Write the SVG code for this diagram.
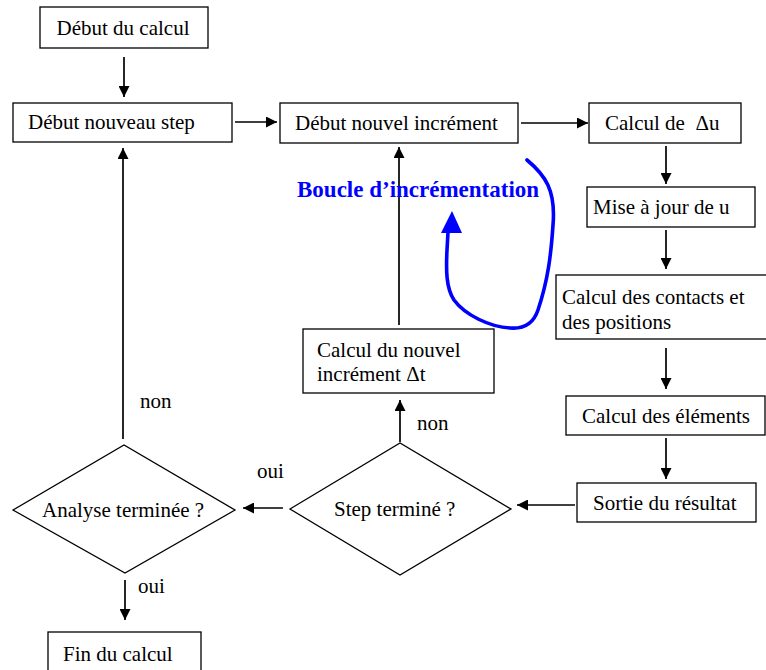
<svg xmlns="http://www.w3.org/2000/svg" width="766" height="670" viewBox="0 0 766 670">
  <style>
    .box { fill: #fff; stroke: #000; stroke-width: 1.3; }
    .lbl { font-family: "Liberation Serif", "Times New Roman", serif; font-size: 21px; fill: #000; }
    .edge { stroke: #000; stroke-width: 1.7; fill: none; }
    .loop { stroke: #0000ff; stroke-width: 3.6; fill: none; stroke-linecap: round; }
    .loopText { font-family: "Liberation Serif", "Times New Roman", serif; font-size: 23px; font-weight: bold; fill: #0000ff; }
  </style>
  <defs>
    <marker id="arrow" viewBox="0 0 10 10" refX="10" refY="5" markerWidth="11" markerHeight="11" markerUnits="userSpaceOnUse" orient="auto">
      <path d="M0,0 L10,5 L0,10 z" fill="#000"/>
    </marker>
  </defs>
  <rect width="766" height="670" fill="#fff"/>

  <!-- connectors -->
  <g id="connectors">
    <line class="edge" x1="124" y1="57" x2="124" y2="97" marker-end="url(#arrow)"/>
    <line class="edge" x1="235" y1="122" x2="277" y2="122" marker-end="url(#arrow)"/>
    <line class="edge" x1="521" y1="123" x2="588" y2="123" marker-end="url(#arrow)"/>
    <line class="edge" x1="666" y1="146" x2="666" y2="184" marker-end="url(#arrow)"/>
    <line class="edge" x1="666" y1="230" x2="666" y2="269" marker-end="url(#arrow)"/>
    <line class="edge" x1="666" y1="348" x2="666" y2="389" marker-end="url(#arrow)"/>
    <line class="edge" x1="666" y1="438" x2="666" y2="479" marker-end="url(#arrow)"/>
    <line class="edge" x1="575" y1="505" x2="517" y2="505" marker-end="url(#arrow)"/>
    <line class="edge" x1="283" y1="508" x2="243" y2="508" marker-end="url(#arrow)"/>
    <line class="edge" x1="400" y1="442" x2="400" y2="400" marker-end="url(#arrow)"/>
    <line class="edge" x1="399" y1="325" x2="399" y2="147" marker-end="url(#arrow)"/>
    <line class="edge" x1="123" y1="439" x2="123" y2="148" marker-end="url(#arrow)"/>
    <line class="edge" x1="125" y1="580" x2="125" y2="620" marker-end="url(#arrow)"/>
    <text class="lbl" x="257" y="478">oui</text>
    <text class="lbl" x="417" y="430">non</text>
    <text class="lbl" x="140" y="408">non</text>
    <text class="lbl" x="138" y="593">oui</text>
  </g>

  <!-- increment loop annotation -->
  <g id="loop">
    <path class="loop" d="M527,160 C545,175 556,190 553,225 C551,255 548,280 538,310 C533,325 522,329 510,328 C490,327 465,315 454,300 C446,288 446,270 447,250 L448,232"/>
    <path d="M441,233 L452,211 L462,233 z" fill="#0000ff"/>
    <text class="loopText" x="297" y="197">Boucle d’incrémentation</text>
  </g>

  <g id="debut-calcul">
    <rect class="box" x="40" y="7" width="168" height="41"/>
    <text class="lbl" x="123" y="35" text-anchor="middle">Début du calcul</text>
  </g>
  <g id="debut-step">
    <rect class="box" x="13" y="103" width="219" height="39"/>
    <text class="lbl" x="28" y="129">Début nouveau step</text>
  </g>
  <g id="debut-increment">
    <rect class="box" x="280" y="103" width="238" height="40"/>
    <text class="lbl" x="295" y="130">Début nouvel incrément</text>
  </g>
  <g id="calcul-du">
    <rect class="box" x="589" y="103" width="152" height="40"/>
    <text class="lbl" x="605" y="130" xml:space="preserve">Calcul de  Δu</text>
  </g>
  <g id="maj-u">
    <rect class="box" x="587" y="187" width="168" height="40"/>
    <text class="lbl" x="593" y="214">Mise à jour de u</text>
  </g>
  <g id="contacts">
    <rect class="box" x="556" y="275" width="212" height="64"/>
    <text class="lbl" x="562" y="304">Calcul des contacts et</text>
    <text class="lbl" x="562" y="329">des positions</text>
  </g>
  <g id="elements">
    <rect class="box" x="566" y="396" width="199" height="39"/>
    <text class="lbl" x="582" y="423">Calcul des éléments</text>
  </g>
  <g id="sortie">
    <rect class="box" x="577" y="483" width="179" height="39"/>
    <text class="lbl" x="593" y="510">Sortie du résultat</text>
  </g>
  <g id="step-termine">
    <polygon class="box" points="290,509 400,443 511,509 400,575"/>
    <text class="lbl" x="334" y="516">Step terminé ?</text>
  </g>
  <g id="nouvel-dt">
    <rect class="box" x="303" y="329" width="191" height="64"/>
    <text class="lbl" x="317" y="357">Calcul du nouvel</text>
    <text class="lbl" x="317" y="381">incrément Δt</text>
  </g>
  <g id="analyse-terminee">
    <polygon class="box" points="13,510 124,445 235,510 125,573"/>
    <text class="lbl" x="42" y="517">Analyse terminée ?</text>
  </g>
  <g id="fin-calcul">
    <rect class="box" x="48" y="632" width="153" height="45"/>
    <text class="lbl" x="63" y="661">Fin du calcul</text>
  </g>
</svg>
